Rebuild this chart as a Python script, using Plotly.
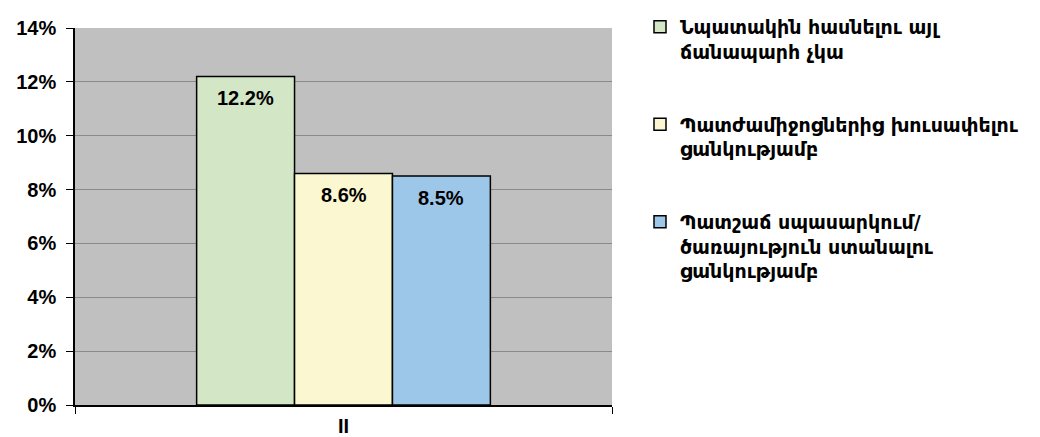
import plotly.graph_objects as go

# --- Data ---
category = ["II"]
series_names = [
    "Նպատակին հասնելու այլ<br>ճանապարհ չկա",
    "Պատժամիջոցներից խուսափելու<br>ցանկությամբ",
    "Պատշաճ սպասարկում/<br>ծառայություն ստանալու<br>ցանկությամբ",
]
series_values = [0.122, 0.086, 0.085]
series_colors = ["#D3E6C6", "#FBF8D1", "#9DC7E8"]
y_ticks = [0, 0.02, 0.04, 0.06, 0.08, 0.10, 0.12, 0.14]

W, H = 1040, 437
ML, MR, MT, MB = 67, 436, 20, 40
BARGAP = 0.453
bar_px = (W - ML - MR) * (1 - BARGAP) / len(series_values)

fig = go.Figure()
for i, (name, val, col) in enumerate(zip(series_names, series_values, series_colors)):
    fig.add_trace(go.Bar(
        x=category, y=[val], name=name, legendgroup=f"g{i}",
        marker=dict(color=col, line=dict(color="black", width=1.5)),
    ))
    # value label a little below the top of each bar
    fig.add_annotation(
        x=category[0], y=val, xref="x", yref="y",
        xshift=(i - (len(series_values) - 1) / 2) * bar_px, yshift=-22,
        text=f"{val*100:.1f}%", showarrow=False, yanchor="middle",
        font=dict(family="Arial, Liberation Sans", size=20, color="black", weight="bold"),
    )

fig.update_layout(
    width=W, height=H,
    barmode="group", bargap=BARGAP, bargroupgap=0,
    plot_bgcolor="#C0C0C0", paper_bgcolor="white",
    margin=dict(l=ML, r=MR, t=MT, b=MB, autoexpand=False),
    font=dict(family="Arial, Liberation Sans", color="black"),
    showlegend=True,
    legend=dict(
        xref="container", yref="container", x=632 / W, y=1.0,
        xanchor="left", yanchor="top", maxheight=H,
        font=dict(family="DejaVu Sans", size=19, color="black", weight="bold"),
        tracegroupgap=45, valign="top", itemwidth=30,
        bgcolor="rgba(0,0,0,0)",
    ),
)
fig.update_yaxes(
    range=[0, 0.14], tickvals=y_ticks, tickformat=".0%",
    showgrid=True, gridcolor="#8A8A8A", gridwidth=1,
    showline=True, linecolor="black", linewidth=1.5,
    ticks="outside", ticklen=7, tickcolor="black", ticklabelstandoff=6,
    tickfont=dict(size=20, weight="bold"), zeroline=False,
)
fig.update_xaxes(
    showline=True, linecolor="black", linewidth=2,
    ticks="outside", tickson="boundaries", ticklen=7, tickcolor="black",
    ticklabelstandoff=2,
    tickfont=dict(size=20, weight="bold"),
)

fig.write_html("out.html")
